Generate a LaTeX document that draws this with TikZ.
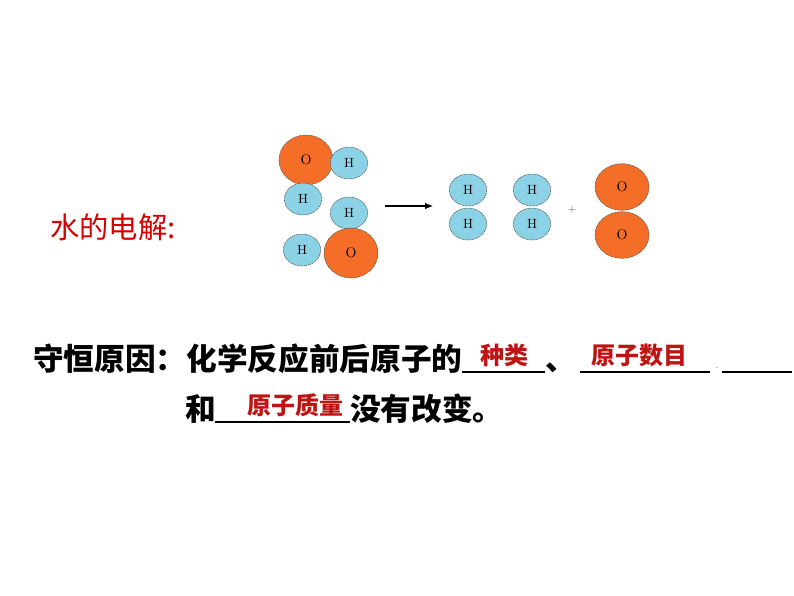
\documentclass[tikz,border=0pt]{standalone}
\usepackage{fontspec}
\newfontfamily\cjk{Noto Sans CJK SC}
\usetikzlibrary{arrows.meta,shapes.geometric}
\definecolor{oxy}{RGB}{245,110,40}
\definecolor{hyd}{RGB}{140,210,230}
\definecolor{ans}{RGB}{190,20,20}
\tikzset{
  atomO/.style={ellipse,draw=black!70,dash pattern=on 1pt off 0.6pt,fill=oxy,minimum width=40.5pt,minimum height=37.5pt,inner sep=0pt,font=\fontsize{10.5}{10.5}\selectfont},
  atomH/.style={ellipse,draw=black!70,dash pattern=on 1pt off 0.6pt,fill=hyd,minimum width=28pt,minimum height=24pt,inner sep=0pt,font=\fontsize{10}{10}\selectfont},
  txt/.style={anchor=base west,inner sep=0pt,font=\cjk\bfseries\fontsize{23}{23}\selectfont},
  answer/.style={anchor=base,inner sep=0pt,text=ans,font=\cjk\bfseries\fontsize{18}{18}\selectfont},
  blank/.style={line width=0.8pt}
}
\begin{document}
\begin{tikzpicture}[x=0.75pt,y=-0.75pt]
  \useasboundingbox (0,0) rectangle (794,596);
  % water molecules
  \node[atomO] (o1) at (306,160) {O};
  \node[atomH] (h1) at (349,163) {H};
  \node[atomH] (h2) at (303,199) {H};
  \node[atomH] (h3) at (349,213) {H};
  \node[atomH] (h4) at (302,250) {H};
  \node[atomO] (o2) at (351,253) {O};
  \coordinate (a1) at (385,206);
  \coordinate (a2) at (433,206);
  \draw[-{Latex[length=6pt,width=5pt]},thick] (a1) -- (a2);
  % products
  \node[atomH] (h5) at (468,190) {H};
  \node[atomH] (h6) at (468,224) {H};
  \node[atomH] (h7) at (532,190) {H};
  \node[atomH] (h8) at (532,224) {H};
  \node[font=\fontsize{8}{8}\selectfont,text=black!60] (plus) at (572,210) {+};
  \node[atomO,minimum height=35pt] (o3) at (622,187) {O};
  \node[atomO,minimum height=35pt] (o4) at (622,235) {O};
  \node[anchor=base west,inner sep=0pt,text=red!85!black,font=\cjk\fontsize{22}{22}\selectfont] (title) at (50,238) {水的电解:};
  % reason text
  \node[txt] (l1) at (33,370) {守恒原因：化学反应前后原子的};
  \coordinate (u1a) at (462,372); \coordinate (u1b) at (545,372);
  \draw[blank] (u1a) -- (u1b);
  \node[answer] (f1) at (504,364) {种类};
  \node[txt] (dun) at (545,370) {、};
  \coordinate (u2a) at (580,372); \coordinate (u2b) at (710,372);
  \draw[blank] (u2a) -- (u2b);
  \node[answer] (f2) at (639,364) {原子数目};
  \node[inner sep=0pt,font=\fontsize{6}{6}\selectfont] (dot) at (717,368) {.};
  \coordinate (u3a) at (722,372); \coordinate (u3b) at (792,372);
  \draw[blank] (u3a) -- (u3b);
  \node[txt] (he) at (185,420) {和};
  \coordinate (u4a) at (215,422); \coordinate (u4b) at (350,422);
  \draw[blank] (u4a) -- (u4b);
  \node[answer] (f3) at (295,414) {原子质量};
  \node[txt] (l2) at (350,420) {没有改变。};
\end{tikzpicture}
\end{document}
